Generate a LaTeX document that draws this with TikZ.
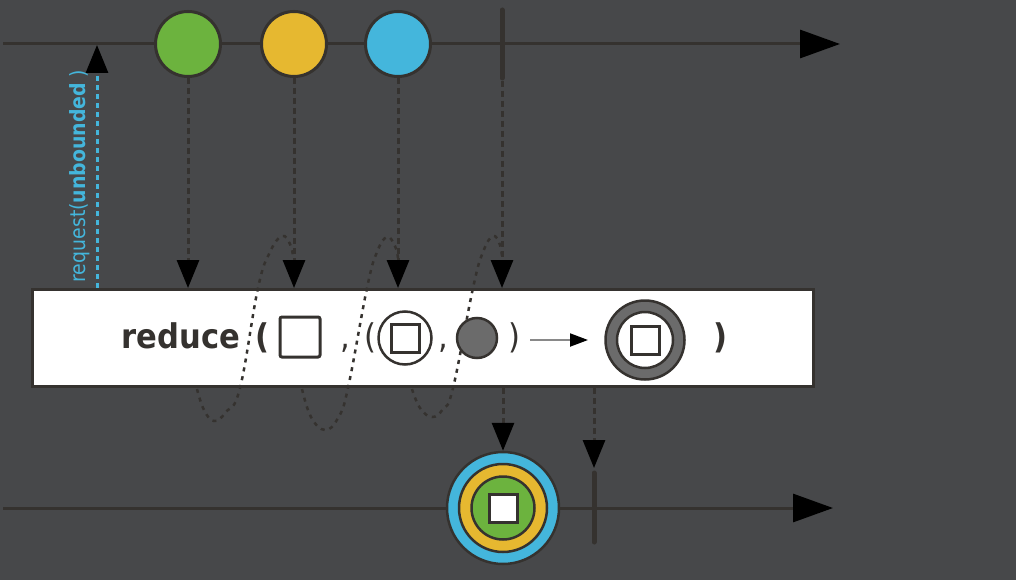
\documentclass[tikz,border=0pt]{standalone}
\usepackage{fontspec}
\setmainfont{DejaVu Sans Condensed}
\usetikzlibrary{arrows.meta}
\definecolor{bg}{HTML}{47484A}
\definecolor{ink}{HTML}{35322F}
\definecolor{mgreen}{HTML}{6CB33E}
\definecolor{myellow}{HTML}{E6B830}
\definecolor{mblue}{HTML}{44B6DC}
\definecolor{mgray}{HTML}{6B6B6B}
\begin{document}
\begin{tikzpicture}[x=1pt, y=-1pt,
  timeline/.style={ink, line width=3pt, -{Triangle[length=40pt,width=28pt,color=black]}},
  marble/.style={circle, draw=ink, line width=3pt, minimum size=65pt, inner sep=0pt, fill=#1},
  ring/.style={circle, draw=ink, line width=2.5pt, inner sep=0pt, minimum size=#1},
  sq/.style={rectangle, draw=ink, line width=3pt, fill=white, inner sep=0pt, minimum size=#1},
  flow/.style={ink, line width=3pt, dash pattern=on 6pt off 4pt, -{Triangle[length=28pt,width=22pt,color=black]}},
  req/.style={mblue, line width=3pt, dash pattern=on 5pt off 4pt, -{Triangle[length=28pt,width=22pt,color=black]}},
  wave/.style={ink, line width=2.5pt, dash pattern=on 4pt off 5pt},
  bar/.style={ink, line width=5pt, line cap=round},
  txt/.style={anchor=base, text=ink, inner sep=0pt, font=\fontsize{34}{34}\selectfont}]
\fill[bg] (0,0) rectangle (1016,580);
\useasboundingbox (0,0) rectangle (1016,580);
\coordinate (top0) at (3,44);
\coordinate (top1) at (840,44);
\coordinate (bot0) at (3,508);
\coordinate (bot1) at (833,508);
\coordinate (done) at (502,44);
\coordinate (end) at (594,508);
\coordinate (rq) at (97,45);
\draw[timeline] (top0) -- (top1);
\draw[timeline] (bot0) -- (bot1);
\node[marble=mgreen] (green) at (188,44) {};
\node[marble=myellow] (yellow) at (294,44) {};
\node[marble=mblue] (blue) at (398,44) {};
\draw[bar] ([yshift=34pt]done) -- ([yshift=-34pt]done);
\node[draw=ink, line width=3pt, fill=white, minimum width=781pt, minimum height=97pt] (box) at (423,338) {};
\draw[flow] (green.south) -- (green |- box.north);
\draw[flow] (yellow.south) -- (yellow |- box.north);
\draw[flow] (blue.south) -- (blue |- box.north);
\draw[flow] ([yshift=-37pt]done) -- (done |- box.north);
\draw[req] (rq |- box.north) -- (rq);
\node[rotate=90, text=mblue, font=\fontsize{21}{21}\selectfont] (reqlabel) at (80,176) {request(\textbf{unbounded} )};
\draw[wave] plot[smooth, tension=0.7] coordinates {(197,389) (204,410) (214,421) (226,412) (240,388) (258,288) (270,252) (282,236) (290,244) (293,256)};
\draw[wave] plot[smooth, tension=0.7] coordinates {(302,389) (311,417) (325,430) (338,418) (348,388) (367,288) (377,252) (387,237) (395,246) (398,258)};
\draw[wave] plot[smooth, tension=0.7] coordinates {(412,389) (420,408) (432,417) (443,409) (453,388) (473,288) (483,252) (493,236) (500,245) (502,258)};
\node[txt] (reduce) at (181,348) {\bfseries reduce};
\node[txt] (lp1) at (262,348) {\bfseries (};
\node[sq=40pt, rounded corners=2pt] (seed) at (300,337) {};
\node[txt] (cm1) at (345,348) {,};
\node[txt] (lp2) at (370,348) {(};
\node[ring=53pt, fill=white] (acc) at (405,338) {};
\node[sq=28pt] at (acc) {};
\node[txt] (cm2) at (443,348) {,};
\node[ring=40pt, fill=mgray] (item) at (477,338) {};
\node[txt] (rp1) at (514,348) {)};
\node[ring=79pt, fill=mgray] (result) at (645,340) {};
\node[ring=56pt, fill=white] at (result) {};
\node[sq=28pt] at (result) {};
\node[txt] (rp2) at (720,348) {\bfseries )};
\coordinate (a0) at (530,340);
\coordinate (a1) at (588,340);
\draw[mgray!80!white, line width=2pt, -{Triangle[length=18pt,width=13pt,color=black]}] (a0) -- (a1);
\node[ring=112pt, fill=mblue] (total) at (503,508) {};
\node[ring=88pt, fill=myellow] at (total) {};
\node[ring=63pt, fill=mgreen] at (total) {};
\node[sq=28pt] at (total) {};
\draw[bar] ([yshift=35pt]end) -- ([yshift=-34pt]end);
\draw[flow] (box.south -| total) -- (total.north);
\draw[flow] (box.south -| end) -- ([yshift=40pt]end);
\end{tikzpicture}
\end{document}
